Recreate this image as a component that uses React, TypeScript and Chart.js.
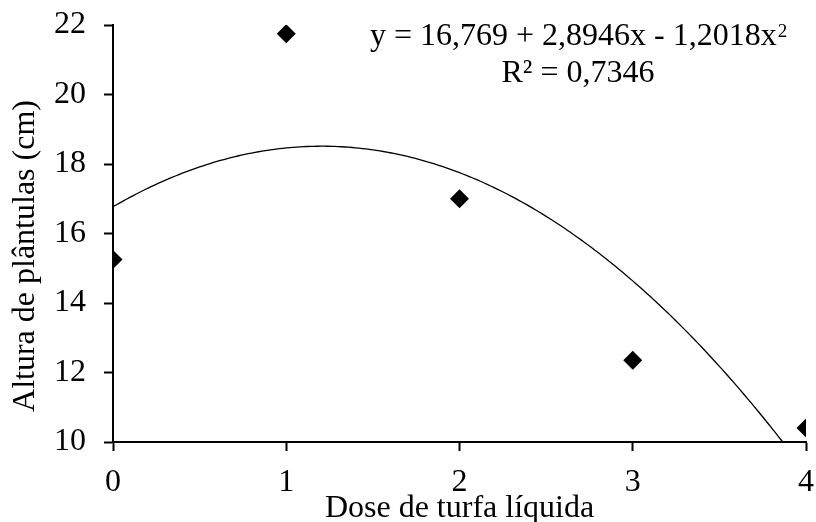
import React, { useEffect, useRef } from "react";
import { Chart, registerables } from "chart.js";

Chart.register(...registerables);

const doses = [0, 1, 2, 3, 4];
const alturas = [15.25, 21.75, 17.0, 12.35, 10.4];
const coef = [16.769, 2.8946, -1.2018];
const xTicks = [0, 1, 2, 3, 4];
const yTicks = [10, 12, 14, 16, 18, 20, 22];
const eqLine1 = "y = 16,769 + 2,8946x - 1,2018x";
const eqSup = "2";
const eqLine2 = "R² = 0,7346";
const xTitle = "Dose de turfa líquida";
const yTitle = "Altura de plântulas (cm)";

const FONT = "'Liberation Serif', 'Times New Roman', serif";

const curvePts: { x: number; y: number }[] = [];
for (let i = 0; i <= 200; i++) {
  const x = (i / 200) * 4;
  curvePts.push({ x, y: coef[0] + coef[1] * x + coef[2] * x * x });
}

const textPlugin = {
  id: "textPlugin",
  afterDraw(chart: any) {
    const ctx = chart.ctx;
    const ca = chart.chartArea;
    ctx.save();
    ctx.fillStyle = "#000";
    ctx.textBaseline = "alphabetic";
    ctx.font = `32px ${FONT}`;
    const w1 = ctx.measureText(eqLine1).width;
    ctx.font = `19px ${FONT}`;
    const ws = ctx.measureText(eqSup).width;
    const cx = 578;
    const startX = cx - (w1 + ws) / 2;
    ctx.font = `32px ${FONT}`;
    ctx.textAlign = "left";
    ctx.fillText(eqLine1, startX, 45);
    ctx.font = `19px ${FONT}`;
    ctx.fillText(eqSup, startX + w1 + 1, 37);
    ctx.font = `32px ${FONT}`;
    ctx.textAlign = "center";
    ctx.fillText(eqLine2, cx, 82);
    ctx.fillText(xTitle, (ca.left + ca.right) / 2, 517);
    ctx.translate(34, 256);
    ctx.rotate(-Math.PI / 2);
    ctx.fillText(yTitle, 0, 0);
    ctx.restore();
  },
};

export default function App() {
  const ref = useRef<HTMLCanvasElement>(null);
  useEffect(() => {
    if (!ref.current) return;
    const chart = new Chart(ref.current, {
      type: "scatter",
      data: {
        datasets: [
          {
            type: "line",
            data: curvePts,
            borderColor: "#000",
            borderWidth: 1.3,
            pointRadius: 0,
            fill: false,
            tension: 0,
            clip: 0,
          } as any,
          {
            data: doses.map((d, i) => ({ x: d, y: alturas[i] })),
            backgroundColor: "#000",
            borderColor: "#000",
            pointStyle: "rectRot",
            pointRadius: 9.5,
            pointHoverRadius: 9.5,
            borderWidth: 0,
          },
        ],
      },
      options: {
        animation: false,
        responsive: false,
        events: [],
        layout: { padding: { top: 25, right: 10, left: 0, bottom: 0 } },
        plugins: { legend: { display: false }, tooltip: { enabled: false } },
        scales: {
          x: {
            type: "linear",
            min: 0,
            max: 4,
            afterFit: (s: any) => {
              s.height = 80;
              s.paddingLeft = 0;
              s.paddingRight = 0;
            },
            afterBuildTicks: (s: any) => {
              s.ticks = xTicks.map((v) => ({ value: v }));
            },
            ticks: {
              color: "#000",
              font: { family: FONT, size: 32 },
              padding: 12,
              callback: (v: any) => String(v),
            },
            grid: {
              drawOnChartArea: false,
              drawTicks: true,
              tickLength: 9,
              tickColor: "#000",
              tickWidth: 2,
            },
            border: { display: true, color: "#000", width: 2 },
          },
          y: {
            type: "linear",
            min: 10,
            max: 22,
            afterFit: (s: any) => {
              s.width = 113;
              s.paddingTop = 0;
              s.paddingBottom = 0;
            },
            afterBuildTicks: (s: any) => {
              s.ticks = yTicks.map((v) => ({ value: v }));
            },
            ticks: {
              color: "#000",
              font: { family: FONT, size: 32 },
              padding: 18,
              callback: (v: any) => String(v),
            },
            grid: {
              drawOnChartArea: false,
              drawTicks: true,
              tickLength: 9,
              tickColor: "#000",
              tickWidth: 2,
            },
            border: { display: true, color: "#000", width: 2 },
          },
        },
      },
      plugins: [textPlugin],
    });
    return () => chart.destroy();
  }, []);
  return (
    <div style={{ position: "fixed", left: 0, top: 0, width: 816, height: 522, background: "#fff" }}>
      <canvas ref={ref} width={816} height={522} style={{ width: 816, height: 522 }} />
    </div>
  );
}
